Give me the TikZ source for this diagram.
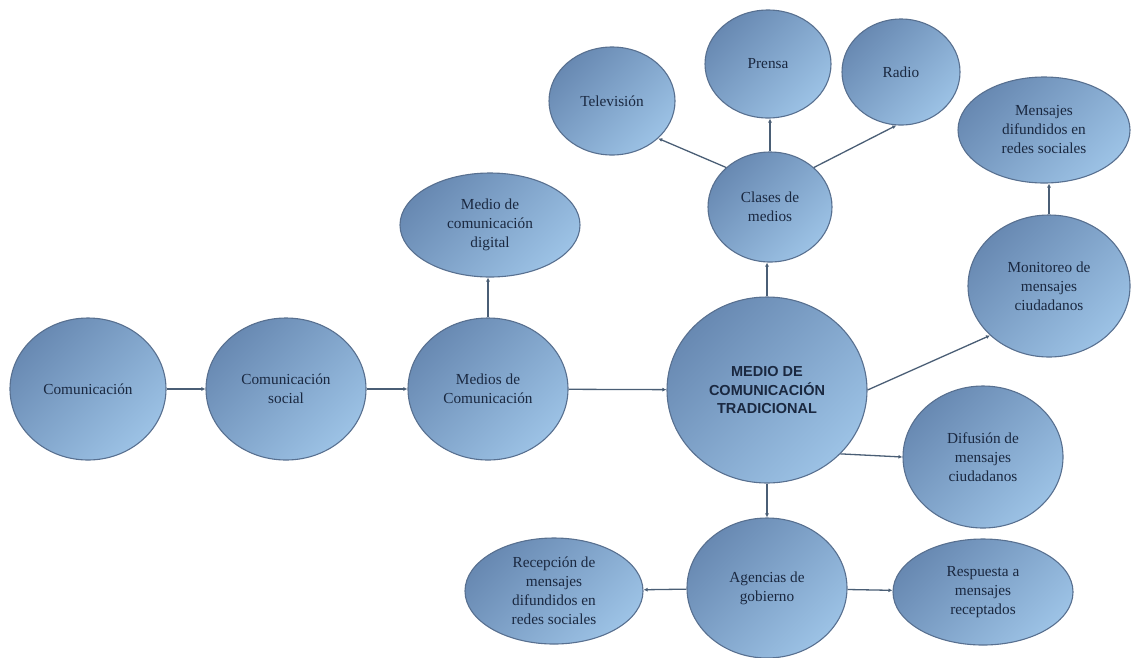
\documentclass[tikz,border=0pt]{standalone}
\usepackage{fontspec}
\setmainfont{Liberation Serif}
\newfontfamily\headfont{Liberation Sans}
\usepackage{xcolor}
\usetikzlibrary{positioning,arrows.meta,shapes.geometric}
\definecolor{bubbledark}{HTML}{6889B2}
\definecolor{bubblelight}{HTML}{9CC2E5}
\definecolor{bubbleline}{HTML}{587090}
\definecolor{bubbletext}{HTML}{1A2840}
\definecolor{linkline}{HTML}{4A5E75}

\begin{document}
\begin{tikzpicture}[x=1pt, y=-1pt,
    bubble/.style={ellipse, draw=bubbleline, line width=1.1pt,
      top color=bubbledark, bottom color=bubblelight, shading angle=45,
      inner sep=0pt, align=center, text=bubbletext,
      font=\fontsize{15.3}{19}\selectfont},
    link/.style={draw=linkline, line width=1.3pt, -{Latex[length=4pt,width=4pt]}}]
    \useasboundingbox (0,0) rectangle (1131,657);

    % main chain
    \node[bubble, minimum width=156, minimum height=142] (comunicacion) at (88,389) {Comunicación};
    \node[bubble, minimum width=160, minimum height=142] (social) at (286,389) {Comunicación\\social};
    \node[bubble, minimum width=160, minimum height=142] (medios) at (488,389) {Medios de\\Comunicación};
    \node[bubble, minimum width=180, minimum height=104] (digital) at (490,225) {Medio de\\comunicación\\digital};
    \node[bubble, minimum width=200, minimum height=186,
          font=\headfont\bfseries\fontsize{14.5}{18.5}\selectfont] (tradicional) at (767,390)
      {MEDIO DE\\COMUNICACIÓN\\TRADICIONAL};

    % clases de medios
    \node[bubble, minimum width=124, minimum height=110] (clases) at (770,207) {Clases de\\medios};
    \node[bubble, minimum width=126, minimum height=108] (television) at (612,101) {Televisión};
    \node[bubble, minimum width=126, minimum height=108] (prensa) at (768,64) {Prensa};
    \node[bubble, minimum width=118, minimum height=106] (radio) at (901,72) {Radio};

    % mensajes ciudadanos
    \node[bubble, minimum width=162, minimum height=142] (monitoreo) at (1049,286) {Monitoreo de\\mensajes\\ciudadanos};
    \node[bubble, minimum width=172, minimum height=106] (redes) at (1044,130) {Mensajes\\difundidos en\\redes sociales};
    \node[bubble, minimum width=160, minimum height=142] (difusion) at (983,457) {Difusión de\\mensajes\\ciudadanos};

    % agencias
    \node[bubble, minimum width=160, minimum height=140] (agencias) at (767,588) {Agencias de\\gobierno};
    \node[bubble, minimum width=178, minimum height=106] (recepcion) at (554,591) {Recepción de\\mensajes\\difundidos en\\redes sociales};
    \node[bubble, minimum width=180, minimum height=106] (respuesta) at (983,592) {Respuesta a\\mensajes\\receptados};

    \draw[link] (comunicacion) -- (social);
    \draw[link] (social) -- (medios);
    \draw[link] (medios) -- (tradicional);
    \draw[link] (medios.north) -- (digital.south -| medios.north);
    \draw[link] (tradicional) -- (clases.south -| tradicional);
    \draw[link] (clases) -- (prensa.south -| clases);
    \draw[link] (clases.138) -- (television.-39);
    \draw[link] (clases.42) -- (radio.265);
    \draw[link] (tradicional.east) -- (monitoreo.220);
    \draw[link] (monitoreo) -- (redes.south -| monitoreo);
    \draw[link] (tradicional.-41) -- (difusion.west);
    \draw[link] (tradicional) -- (agencias.north -| tradicional);
    \draw[link] (agencias) -- (recepcion);
    \draw[link] (agencias) -- (respuesta);
\end{tikzpicture}
\end{document}
